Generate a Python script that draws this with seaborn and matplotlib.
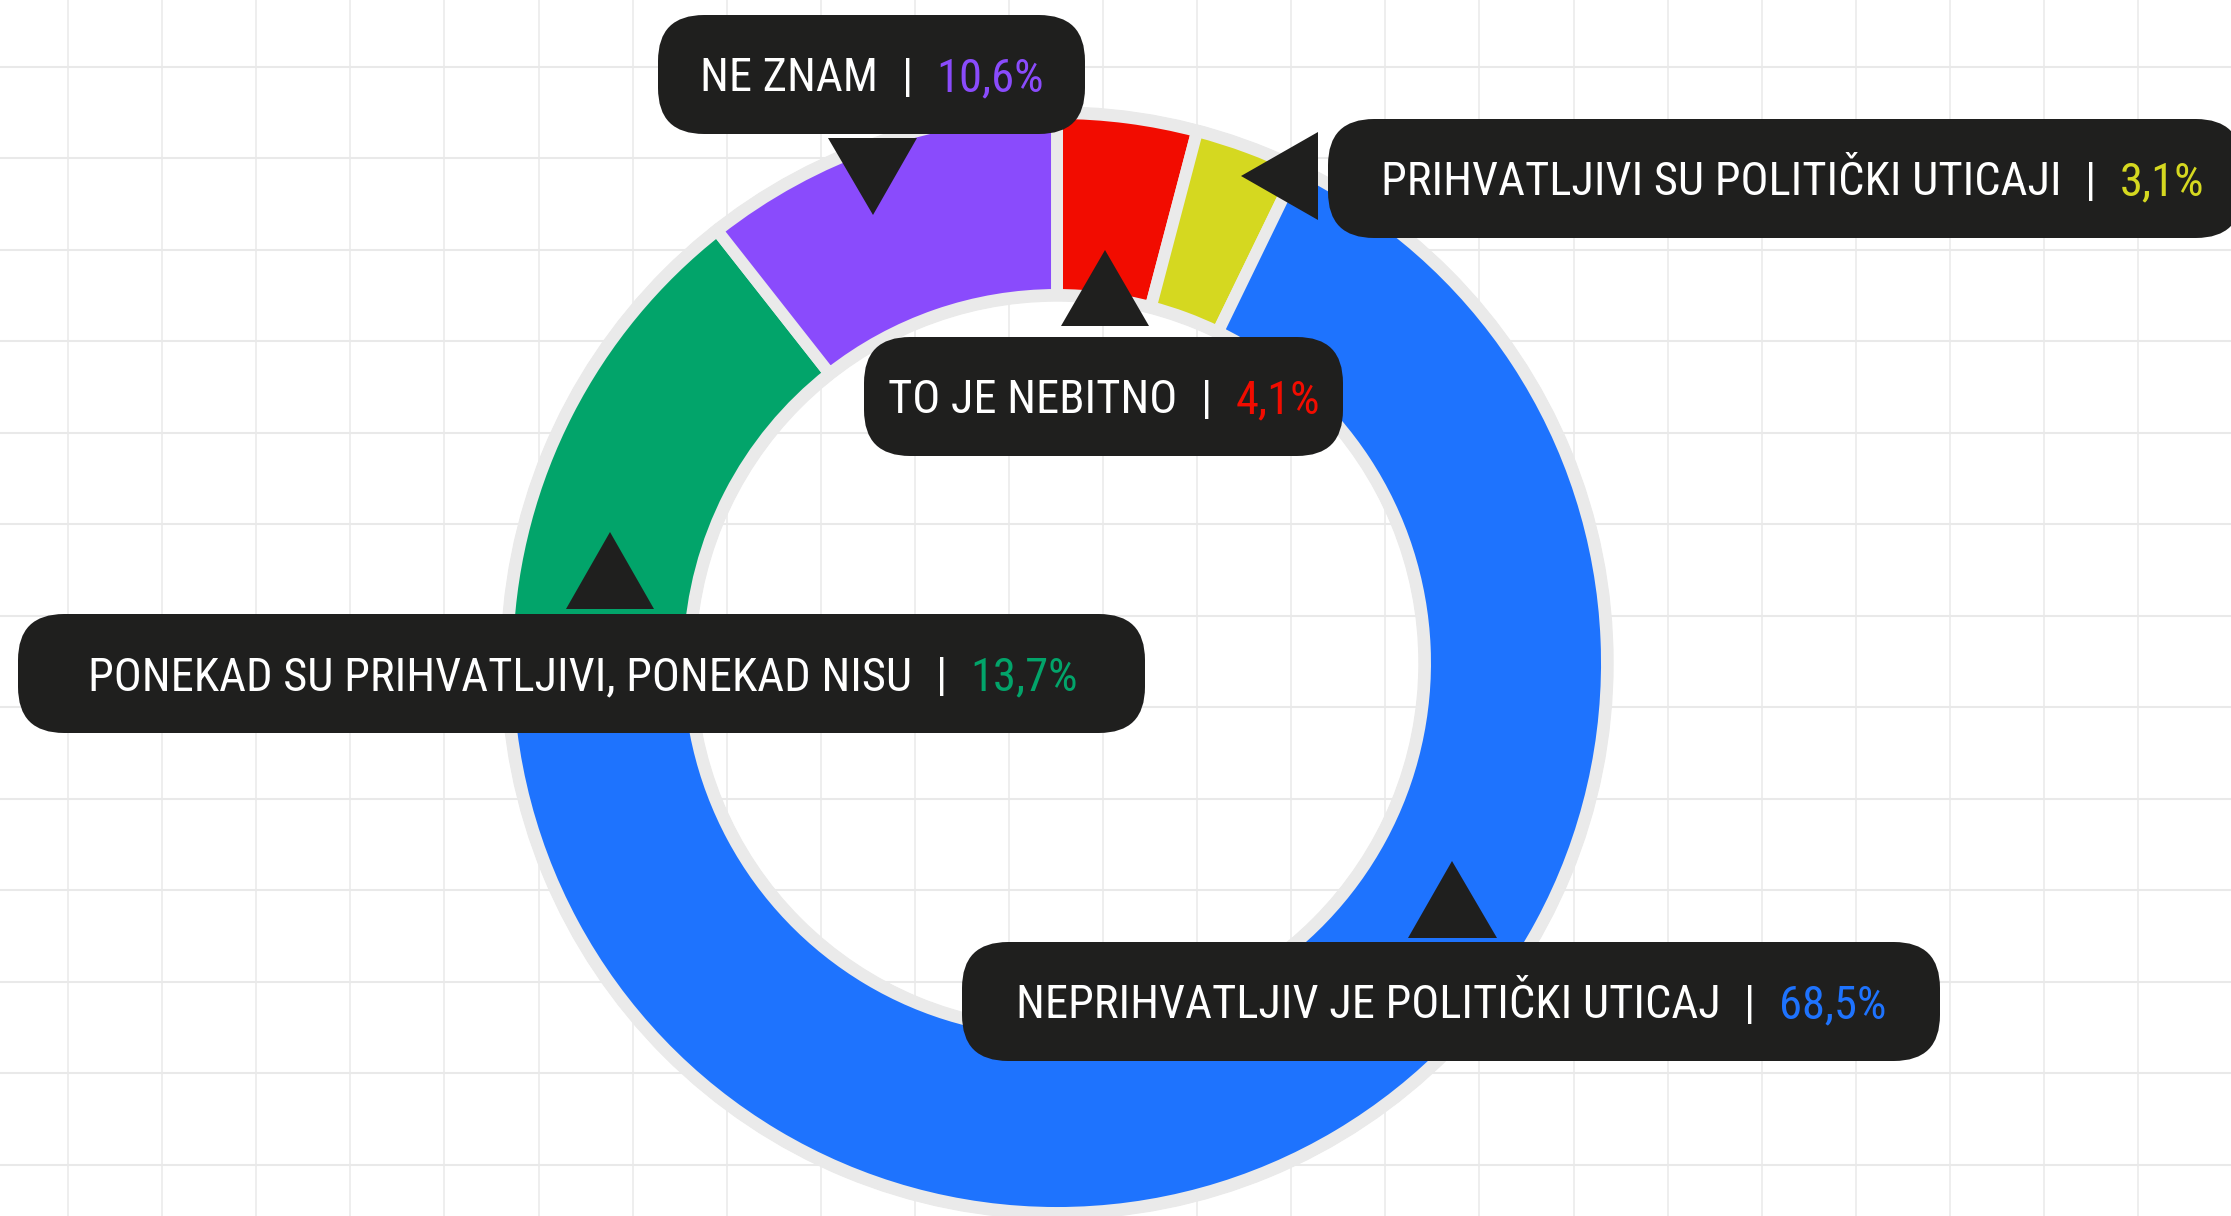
import matplotlib
matplotlib.use("Agg")
import seaborn as sns
import matplotlib.pyplot as plt
from matplotlib.patches import FancyBboxPatch, Wedge, Polygon

W, H = 2231, 1216

# slices, clockwise from 12 o'clock
categories = [
    "TO JE NEBITNO",
    "PRIHVATLJIVI SU POLITIČKI UTICAJI",
    "NEPRIHVATLJIV JE POLITIČKI UTICAJ",
    "PONEKAD SU PRIHVATLJIVI, PONEKAD NISU",
    "NE ZNAM",
]
values = [4.1, 3.1, 68.5, 13.7, 10.6]
colors = ["#f20c00", "#d5d820", "#1e73fe", "#02a46a", "#8a4bfc"]

# callout layout in image pixels (y measured from top)
boxes = [
    (864, 337, 1343, 456),
    (1328, 119, 2242, 238),
    (962, 942, 1940, 1061),
    (18, 614, 1145, 733),
    (658, 15, 1085, 134),
]
text_spans = [(888, 1320), (1382, 2203), (1016, 1887), (82, 1084), (697, 1047)]
pointers = [
    [(1061, 326), (1149, 326), (1105, 250)],
    [(1318, 132), (1318, 220), (1241, 176)],
    [(1408, 938), (1497, 938), (1452, 861)],
    [(566, 609), (654, 609), (610, 532)],
    [(828, 138), (917, 138), (873, 215)],
]

DARK = "#1f1f1e"
RIM = "#eaeaea"
GRID = "#e9e9e9"


def fy(y):
    return H - y


sns.set_theme(style="white")
plt.rcParams["font.family"] = ["Roboto Condensed", "DejaVu Sans"]
plt.rcParams["font.stretch"] = "condensed"

fig = plt.figure(figsize=(W / 100, H / 100), dpi=100)
ax = fig.add_axes([0, 0, 1, 1])

# background grid
gx = 68.0
while gx < W:
    ax.axvline(gx, color=GRID, lw=1.1, zorder=0)
    gx += 94.1
gy = 66.7
while gy < H:
    ax.axhline(fy(gy), color=GRID, lw=1.5, zorder=0)
    gy += 91.5

# donut
cx, cy = 1057, fy(663)
ax.add_patch(Wedge((cx, cy), 556, 0, 360, width=194, color=RIM, zorder=1))
ax.pie(values, colors=sns.color_palette(colors), startangle=90, counterclock=False,
       radius=550, center=(cx, cy),
       wedgeprops=dict(width=182, edgecolor=RIM, linewidth=8.6, zorder=2))

ax.set_xlim(0, W)
ax.set_ylim(0, H)
ax.set_aspect("auto")
ax.axis("off")

# callouts
for (l, t, r, b), tri in zip(boxes, pointers):
    ax.add_patch(FancyBboxPatch((l, fy(b)), r - l, b - t,
                                boxstyle="round,pad=0,rounding_size=46",
                                fc=DARK, ec="none", zorder=5))
    ax.add_patch(Polygon([(x, fy(y)) for x, y in tri], closed=True,
                         fc=DARK, ec="none", zorder=5))

renderer = fig.canvas.get_renderer()
pcts = [f"{v:.1f}".replace(".", ",") + "%" for v in values]


def draw_parts(x, y, size, label, pct, color):
    gap = 0.5 * size / 0.72
    arts = []
    for s, c in ((label, "white"), ("|", "white"), (pct, color)):
        t = ax.text(x, y, s, color=c, fontsize=size, ha="left", va="baseline", zorder=6)
        x += t.get_window_extent(renderer).width + gap
        arts.append(t)
    return arts, x - gap


# fit the font size so every label sits inside its box
base = 40
pad = 20
ratio = 10.0
for lab, pct, col, (l, t, r, b), (x0, x1) in zip(categories, pcts, colors, boxes, text_spans):
    arts, w = draw_parts(0, 0, base, lab, pct, col)
    for a in arts:
        a.remove()
    c = (x0 + x1) / 2
    half = min(c - l, min(r, W - 8) - c) - pad
    ratio = min(ratio, 2 * half / w)
size = min(base * ratio, 45)

for lab, pct, col, (l, t, r, b), (x0, x1) in zip(categories, pcts, colors, boxes, text_spans):
    arts, w = draw_parts(0, 0, size, lab, pct, col)
    for a in arts:
        a.remove()
    start = (x0 + x1) / 2 - w / 2
    base_y = (t + b) / 2 + 0.36 * size / 0.72
    draw_parts(start, fy(base_y), size, lab, pct, col)

fig.savefig("out.png", dpi=100)
